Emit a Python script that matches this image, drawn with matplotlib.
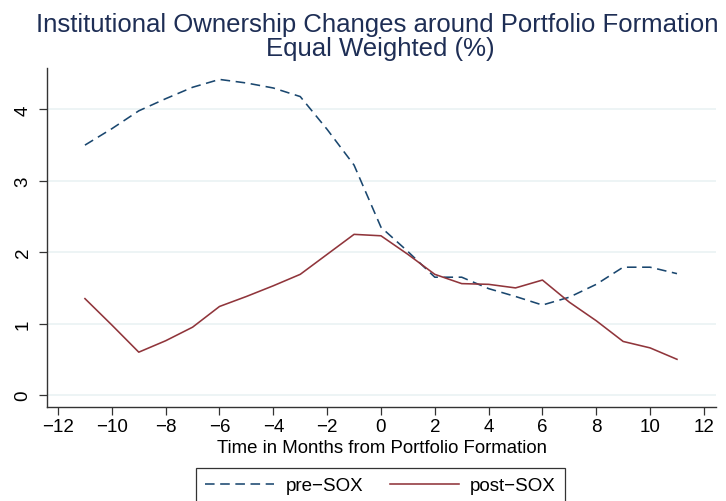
import matplotlib
matplotlib.use("Agg")
import matplotlib.pyplot as plt
from matplotlib import font_manager

months = list(range(-11, 12))
pre_sox = [3.50, 3.73, 3.98, 4.15, 4.31, 4.42, 4.37, 4.30, 4.18, 3.72, 3.22, 2.35,
           2.01, 1.65, 1.65, 1.49, 1.38, 1.26, 1.37, 1.55, 1.79, 1.79, 1.70]
post_sox = [1.35, 0.98, 0.60, 0.76, 0.95, 1.24, 1.38, 1.53, 1.69, 1.97, 2.25, 2.23,
            1.97, 1.69, 1.56, 1.55, 1.50, 1.61, 1.30, 1.04, 0.75, 0.66, 0.50]
x_ticks = list(range(-12, 13, 2))
y_ticks = [0, 1, 2, 3, 4]

names = {f.name for f in font_manager.fontManager.ttflist}
fam = ['Liberation Sans Narrow', 'Liberation Sans', 'DejaVu Sans']
fam = [f for f in fam if f in names] + ['DejaVu Sans']
plt.rcParams['font.family'] = fam

fig = plt.figure(figsize=(7.26, 5.02), dpi=100)
W, H = 726, 502
ax = fig.add_axes([47 / W, 1 - 408 / H, (716 - 47) / W, (408 - 69) / H])

navy = '#1a476f'
maroon = '#90353b'
ax.plot(months, pre_sox, color=navy, lw=1.15, dashes=(6, 3.5), label='pre\u2212SOX')
ax.plot(months, post_sox, color=maroon, lw=1.15, label='post\u2212SOX')

ax.set_xlim(-12.41, 12.45)
ax.set_ylim(-0.168, 4.58)
ax.set_xticks(x_ticks)
ax.set_xticklabels([str(t).replace('-', '\u2212') for t in x_ticks])
ax.set_yticks(y_ticks)
ax.set_yticklabels([str(t) for t in y_ticks], rotation=90, va='center')
ax.yaxis.grid(True, color='#eaf2f3', lw=1.2)
ax.set_axisbelow(True)
for s in ['top', 'right']:
    ax.spines[s].set_visible(False)
for s in ['left', 'bottom']:
    ax.spines[s].set_color('#333333')
    ax.spines[s].set_linewidth(1.0)
ax.tick_params(axis='both', direction='out', length=5.5, width=0.9, color='#333333',
               labelsize=13.5, labelcolor='black')
ax.tick_params(axis='y', pad=5.5)
ax.tick_params(axis='x', pad=2.5)
ax.set_xlabel('Time in Months from Portfolio Formation', fontsize=13.4, labelpad=3)

title_color = '#1e2e55'
fig.text(377.5 / W, 1 - 32 / H, 'Institutional Ownership Changes around Portfolio Formation',
         ha='center', va='baseline', fontsize=18.5, color=title_color)
fig.text(380 / W, 1 - 56 / H, 'Equal Weighted (%)',
         ha='center', va='baseline', fontsize=18.5, color=title_color)

leg = fig.legend(loc='upper center', bbox_to_anchor=(380.5 / W, 1 - 469 / H), ncol=2,
                 fontsize=13.5, frameon=True, fancybox=False, edgecolor='black',
                 handlelength=3.7, handletextpad=0.6, columnspacing=1.4,
                 borderpad=0.5, borderaxespad=0)
leg.get_frame().set_linewidth(0.9)

fig.savefig('out.png', dpi=100)
